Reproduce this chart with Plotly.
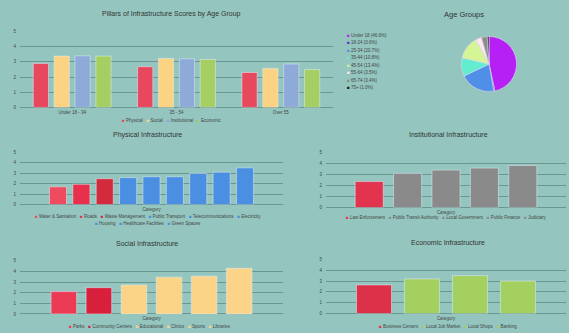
import plotly.graph_objects as go

# ---- data ----
age_groups = ["Under 18 - 34", "35 - 54", "Over 55"]
pillars = ["Physical", "Social", "Institutional", "Economic"]
pillar_scores = {
    "Physical": [2.9, 2.68, 2.3],
    "Social": [3.38, 3.23, 2.57],
    "Institutional": [3.4, 3.2, 2.86],
    "Economic": [3.38, 3.16, 2.5],
}
pillar_colors = ["#e8485e", "#fcd382", "#8eaad8", "#a6cf63"]

age_labels = ["Under 18", "18-24", "25-34", "35-44", "45-54", "55-64", "65-74", "75+"]
age_values = [46.6, 0.6, 20.7, 10.8, 13.4, 3.5, 3.4, 1.0]
age_colors = ["#b620f5", "#5a30c8", "#4f8fe8", "#62ecd0", "#d6f597", "#fde6f0", "#8c8c8c", "#151515"]

phys_cats = ["Water & Sanitation", "Roads", "Waste Management", "Public Transport",
             "Telecommunications", "Electricity", "Housing", "Healthcare Facilities", "Green Spaces"]
phys_vals = [1.7, 1.95, 2.48, 2.58, 2.67, 2.67, 2.99, 3.11, 3.52]
phys_colors = ["#ee4a60", "#e8304c", "#d42a3e", "#4a8fe2", "#4a8fe2", "#4a8fe2",
               "#4a8fe2", "#4a8fe2", "#4a8fe2"]

inst_cats = ["Law Enforcement", "Public Transit Authority", "Local Government", "Public Finance", "Judiciary"]
inst_vals = [2.34, 3.08, 3.37, 3.55, 3.79]
inst_colors = ["#e2334f", "#8a8a8a", "#8a8a8a", "#8a8a8a", "#8a8a8a"]

soc_cats = ["Parks", "Community Centers", "Educational", "Clinics", "Sports", "Libraries"]
soc_vals = [2.1, 2.47, 2.72, 3.46, 3.55, 4.29]
soc_colors = ["#ec3b55", "#d8203c", "#fcd488", "#fcd488", "#fcd488", "#fcd488"]

eco_cats = ["Business Centers", "Local Job Market", "Local Shops", "Banking"]
eco_vals = [2.64, 3.2, 3.5, 3.0]
eco_colors = ["#dd3049", "#a4d060", "#a4d060", "#a4d060"]

# ---- layout helpers ----
W, H = 569, 333
BG = "#94c6bf"
GRID = "#6a9792"
TXT = "#333333"
FONT = "Liberation Sans"


def px(x):
    return x / W


def py(y):
    return 1 - y / H


fig = go.Figure()

# grouped pillar scores by age group
for name, col in zip(pillars, pillar_colors):
    fig.add_trace(go.Bar(x=age_groups, y=pillar_scores[name], name=name,
                         marker_color=col, xaxis="x", yaxis="y", showlegend=False))

# age group pie
fig.add_trace(go.Pie(labels=age_labels, values=age_values, sort=False, direction="clockwise",
                     rotation=0, marker=dict(colors=age_colors, line=dict(color="#d8d8e8", width=0.6)),
                     textinfo="none", hoverinfo="label+percent", showlegend=False,
                     domain=dict(x=[px(461), px(517)], y=[py(91), py(35)])))

panels = [
    (phys_cats, phys_vals, phys_colors, "x2", "y2"),
    (inst_cats, inst_vals, inst_colors, "x3", "y3"),
    (soc_cats, soc_vals, soc_colors, "x4", "y4"),
    (eco_cats, eco_vals, eco_colors, "x5", "y5"),
]
for cats, vals, cols, xa, ya in panels:
    for c, v, col in zip(cats, vals, cols):
        fig.add_trace(go.Bar(x=["Category"], y=[v], name=c, marker_color=col,
                             xaxis=xa, yaxis=ya, showlegend=False))

axis_font = dict(family=FONT, size=4.5, color="#444")


def xax(x0, x1, y_anchor):
    return dict(domain=[px(x0), px(x1)], anchor=y_anchor, showgrid=False, showline=False,
                ticks="", tickfont=axis_font, ticklabelstandoff=1, fixedrange=True)


def yax(y0, y1, x_anchor):
    return dict(domain=[py(y1), py(y0)], anchor=x_anchor, range=[0, 5], dtick=1,
                showgrid=True, gridcolor=GRID, gridwidth=0.8, zeroline=True,
                zerolinecolor=GRID, zerolinewidth=0.8, showline=False, ticks="",
                tickfont=axis_font, ticklabelstandoff=3, fixedrange=True)


fig.update_layout(
    width=W, height=H,
    margin=dict(l=0, r=0, t=0, b=0),
    paper_bgcolor=BG, plot_bgcolor=BG,
    barmode="group", bargap=0.2, bargroupgap=0.27,
    font=dict(family=FONT, color=TXT),
    xaxis=xax(20, 333, "y"), yaxis=yax(30, 107, "x"),
    xaxis2=xax(20, 283, "y2"), yaxis2=yax(152.7, 205.7, "x2"),
    xaxis3=xax(326, 566, "y3"), yaxis3=yax(152.3, 208.7, "x3"),
    xaxis4=xax(20, 283, "y4"), yaxis4=yax(262.7, 316.7, "x4"),
    xaxis5=xax(326, 566, "y5"), yaxis5=yax(261.3, 316.3, "x5"),
)

ann = []


def title(text, x, y, size=7):
    ann.append(dict(text=text, x=px(x), y=py(y), xref="paper", yref="paper",
                    showarrow=False, xanchor="center", yanchor="middle",
                    font=dict(family=FONT, size=size, color=TXT)))


title("Pillars of Infrastructure Scores by Age Group", 171, 12)
title("Age Groups", 464, 13, 7.5)
title("Physical Infrastructure", 147, 135)
title("Institutional Infrastructure", 448, 135)
title("Social Infrastructure", 147, 245)
title("Economic Infrastructure", 448, 244)


def legend_row(names, colors, x, y):
    parts = [f"<span style='color:{c}'>■</span> {n}" for n, c in zip(names, colors)]
    ann.append(dict(text="   ".join(parts), x=px(x), y=py(y), xref="paper", yref="paper",
                    showarrow=False, xanchor="center", yanchor="middle",
                    font=dict(family=FONT, size=4.5, color="#444")))


legend_row(pillars, pillar_colors, 171, 120)
legend_row(phys_cats[:6], phys_colors[:6], 148, 218)
legend_row(phys_cats[6:], phys_colors[6:], 148, 225)
legend_row(inst_cats, inst_colors, 446, 219)
legend_row(soc_cats, soc_colors, 150, 329)
legend_row(eco_cats, eco_colors, 448, 329)

# pie legend, one entry per line
total = sum(age_values)
for i, (lab, v, c) in enumerate(zip(age_labels, age_values, age_colors)):
    ann.append(dict(text=f"<span style='color:{c}'>■</span> {lab} ({v / total * 100:.1f}%)",
                    x=px(345), y=py(34 + i * 7.6), xref="paper", yref="paper",
                    showarrow=False, xanchor="left", yanchor="middle",
                    font=dict(family=FONT, size=4.5, color="#444")))

fig.update_layout(annotations=ann)
fig.write_html("out.html", config={"displayModeBar": False})
